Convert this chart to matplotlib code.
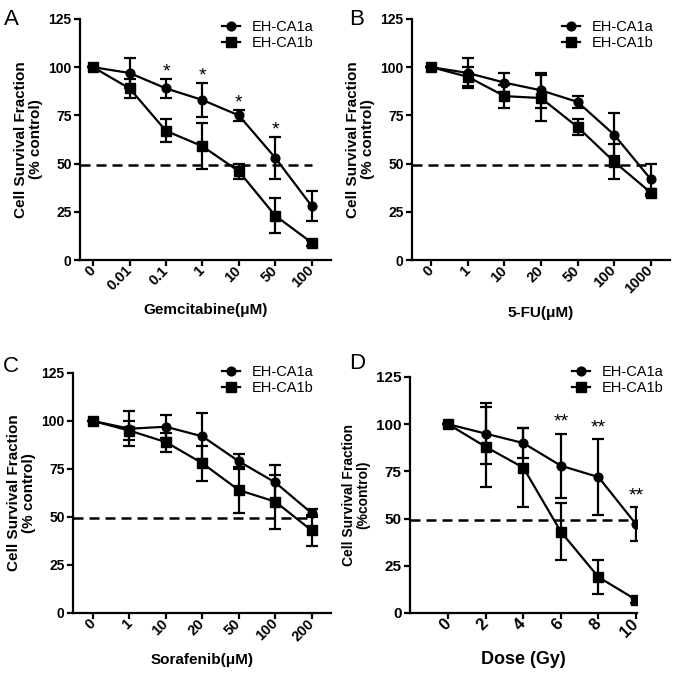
import matplotlib
matplotlib.use("Agg")
from matplotlib import pyplot as plt
import numpy as np

plt.rcParams["font.family"] = ["Liberation Sans", "DejaVu Sans"]

# Panel A: gemcitabine
gem_labels = ["0", "0.01", "0.1", "1", "10", "50", "100"]
gem_a = [100, 97, 89, 83, 75, 53, 28]
gem_a_err = [0, 8, 5, 9, 3, 11, 8]
gem_b = [100, 89, 67, 59, 46, 23, 9]
gem_b_err = [0, 5, 6, 12, 4, 9, 1.5]
gem_stars = [2, 3, 4, 5]

# Panel B: 5-FU
fu_labels = ["0", "1", "10", "20", "50", "100", "1000"]
fu_a = [100, 97, 92, 88, 82, 65, 42]
fu_a_err = [0, 8, 5, 9, 3, 11, 8]
fu_b = [100, 95, 85, 84, 69, 51, 35]
fu_b_err = [0, 5, 6, 12, 4, 9, 2]

# Panel C: sorafenib
sor_labels = ["0", "1", "10", "20", "50", "100", "200"]
sor_a = [100, 96, 97, 92, 79, 68, 52]
sor_a_err = [0, 9, 6, 12, 4, 9, 2]
sor_b = [100, 95, 89, 78, 64, 58, 43]
sor_b_err = [0, 5, 5, 9, 12, 14, 8]

# Panel D: radiation
dose = [0, 2, 4, 6, 8, 10]
rad_a = [100, 95, 90, 78, 72, 47]
rad_a_err = [0, 16, 8, 17, 20, 9]
rad_b = [100, 88, 77, 43, 19, 7]
rad_b_err = [0, 21, 21, 15, 9, 1.5]
rad_stars = [3, 4, 5]

yticks = [0, 25, 50, 75, 100, 125]


def draw_panel(ax, x, a, a_err, b, b_err, xlim, ylabel, big=False):
    kw = dict(color="black", linewidth=1.6, elinewidth=1.6, capsize=4.5, capthick=1.6)
    ea = ax.errorbar(x, a, yerr=a_err, marker="o", markersize=6.3, **kw)
    eb = ax.errorbar(x, b, yerr=b_err, marker="s", markersize=6.8, **kw)
    ax.plot([xlim[0], x[-1]], [49.5, 49.5], color="black", linewidth=1.8,
            linestyle=(0, (4, 2.4)))
    ax.set_xlim(*xlim)
    ax.set_ylim(0, 125)
    ax.set_yticks(yticks)
    ax.spines["top"].set_visible(False)
    ax.spines["right"].set_visible(False)
    ax.spines["left"].set_linewidth(1.6)
    ax.spines["bottom"].set_linewidth(1.6)
    ax.tick_params(direction="out", length=4, width=1.6, pad=2)
    fs = 11 if big else 10
    for lab in ax.get_yticklabels():
        lab.set_fontsize(fs)
        lab.set_fontweight("bold")
    ax.set_ylabel(ylabel, fontsize=10 if big else 11,
                  fontweight="bold", labelpad=4, linespacing=1.1)
    return [ea[0], eb[0]]


fig = plt.figure(figsize=(6.75, 6.8), dpi=100)
W, H = 675.0, 680.0


def make_axes(left, right, top, bottom):
    return fig.add_axes([left / W, 1 - bottom / H, (right - left) / W, (bottom - top) / H])


axA = make_axes(80, 331, 19, 260)
axB = make_axes(412, 670, 19, 260)
axC = make_axes(73, 331, 373, 613)
axD = make_axes(410, 637, 377, 613)

legend_kw = dict(loc="upper left", frameon=False, fontsize=10.5, handlelength=1.25,
                 handletextpad=0.8, borderpad=0, borderaxespad=0)
series_names = ["EH-CA1a", "EH-CA1b"]

panels = [
    (axA, gem_labels, gem_a, gem_a_err, gem_b, gem_b_err, (-0.36, 6.53), "Gemcitabine(\u03bcM)", (0.566, 0.996)),
    (axB, fu_labels, fu_a, fu_a_err, fu_b, fu_b_err, (-0.53, 6.53), "5-FU(\u03bcM)", (0.58, 0.996)),
    (axC, sor_labels, sor_a, sor_a_err, sor_b, sor_b_err, (-0.55, 6.53), "Sorafenib(\u03bcM)", (0.576, 1.033)),
]

for ax, labels, a, a_err, b, b_err, xlim, xlabel, leg_pos in panels:
    x = np.arange(len(labels))
    handles = draw_panel(ax, x, a, a_err, b, b_err, xlim, "Cell Survival Fraction\n(% control)")
    ax.set_xticks(x)
    ax.set_xticklabels(labels, rotation=45, ha="right", va="center",
                       rotation_mode="anchor", fontsize=10.5, fontweight="bold")
    ax.set_xlabel(xlabel, fontsize=11, fontweight="bold", labelpad=7)
    ax.legend(handles, series_names, bbox_to_anchor=leg_pos, labelspacing=0.15, **legend_kw)

# significance marks, panel A
for i in gem_stars:
    axA.text(i, gem_a[i] + gem_a_err[i] + 3.5, "*", ha="center", va="center", fontsize=14)

# Panel D
handles = draw_panel(axD, dose, rad_a, rad_a_err, rad_b, rad_b_err, (-2.03, 10.05),
                     "Cell Survival Fraction\n(%control)", big=True)
axD.set_xticks(dose)
axD.set_xticklabels([str(d) for d in dose], rotation=45, ha="right", va="center",
                    rotation_mode="anchor", fontsize=12, fontweight="bold")
axD.set_xlabel("Dose (Gy)", fontsize=13, fontweight="bold", labelpad=8)
axD.legend(handles, series_names, bbox_to_anchor=(0.712, 1.05), labelspacing=0.1, **legend_kw)
for i in rad_stars:
    axD.text(dose[i], rad_a[i] + rad_a_err[i] + 6, "**", ha="center", va="center", fontsize=14)

# panel letters
for letter, px, py in [("A", 4, 25), ("B", 349, 25), ("C", 3, 372), ("D", 349, 369)]:
    fig.text(px / W, 1 - py / H, letter, fontsize=16, va="baseline", ha="left")

fig.savefig("out.png", dpi=100)
